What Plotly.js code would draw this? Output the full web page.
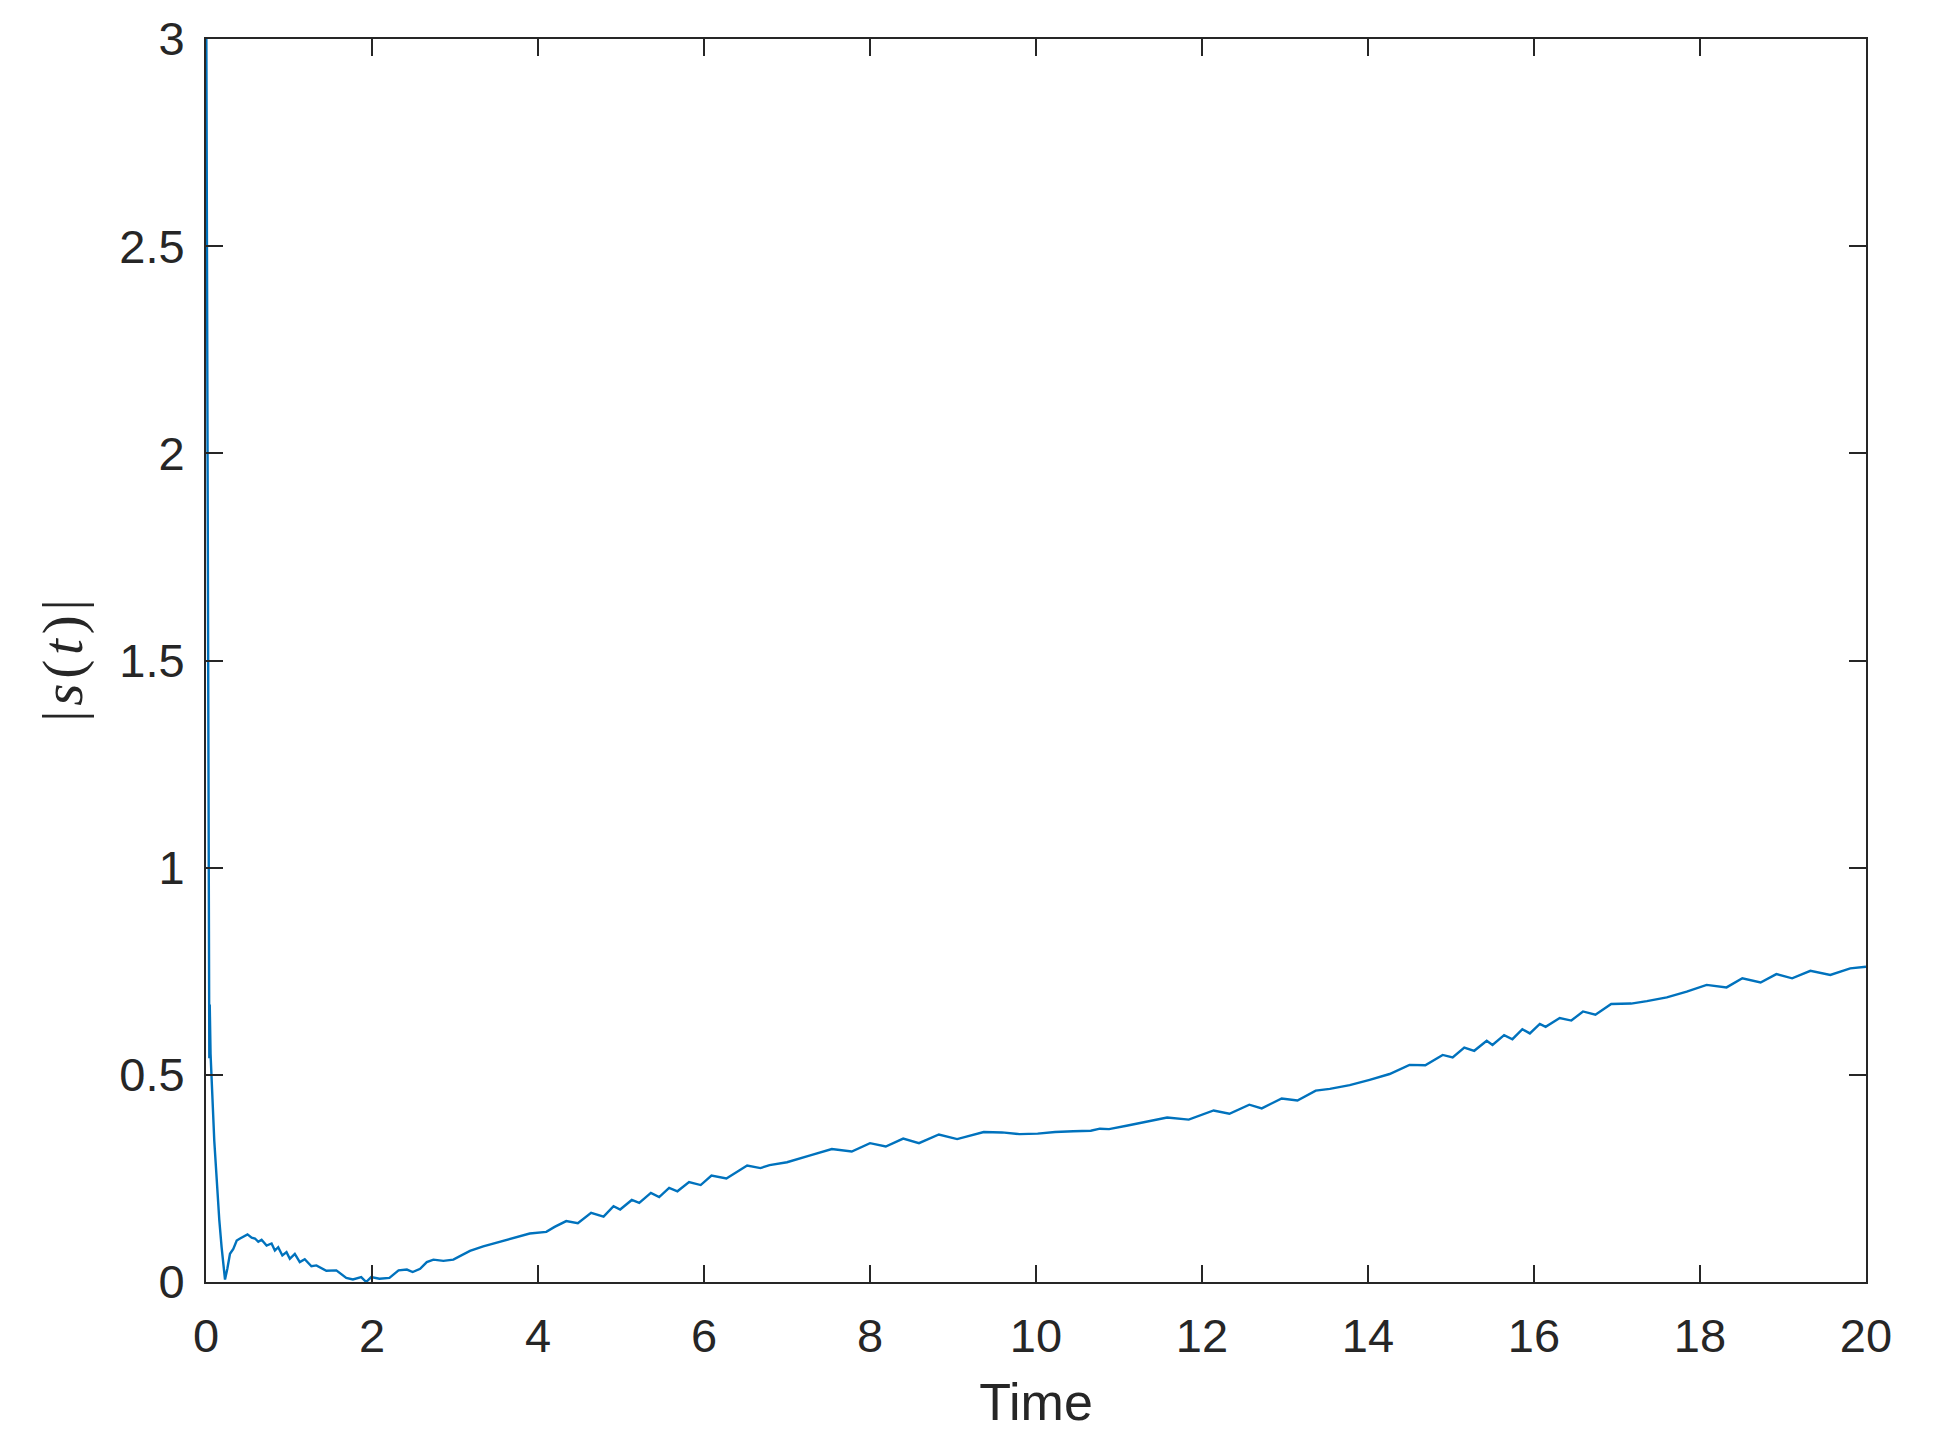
<!DOCTYPE html>
<html>
<head>
<meta charset="utf-8">
<script src="https://cdn.plot.ly/plotly-3.0.1.min.js"></script>
<style>html,body{margin:0;padding:0;background:#fff;}</style>
</head>
<body>
<div id="chart" style="width:1935px;height:1449px;"></div>
<script>
// Time values
const timeValues = [0, 0.03, 0.04, 0.045, 0.055, 0.1, 0.128, 0.16, 0.188, 0.229, 0.257, 0.289, 0.329, 0.37, 0.41, 0.45, 0.5, 0.55, 0.59, 0.63, 0.67, 0.73, 0.79, 0.83, 0.87, 0.92, 0.97, 1.01, 1.07, 1.13, 1.19, 1.27, 1.33, 1.45, 1.57, 1.69, 1.77, 1.87, 1.93, 1.99, 2.09, 2.21, 2.32, 2.42, 2.49, 2.58, 2.66, 2.74, 2.86, 2.98, 3.06, 3.18, 3.34, 3.54, 3.74, 3.9, 4.1, 4.2, 4.34, 4.48, 4.64, 4.79, 4.91, 4.99, 5.13, 5.22, 5.36, 5.46, 5.58, 5.68, 5.82, 5.96, 6.09, 6.27, 6.52, 6.68, 6.79, 7.0, 7.27, 7.54, 7.78, 8.0, 8.19, 8.4, 8.59, 8.83, 9.05, 9.37, 9.59, 9.8, 10.02, 10.23, 10.45, 10.66, 10.77, 10.88, 11.09, 11.31, 11.58, 11.84, 12.14, 12.33, 12.57, 12.72, 12.96, 13.15, 13.37, 13.54, 13.78, 14.02, 14.26, 14.5, 14.69, 14.9, 15.02, 15.16, 15.28, 15.43, 15.5, 15.64, 15.74, 15.86, 15.95, 16.07, 16.14, 16.31, 16.45, 16.59, 16.74, 16.93, 17.17, 17.36, 17.6, 17.84, 18.08, 18.32, 18.51, 18.73, 18.92, 19.11, 19.33, 19.57, 19.81, 20.0];
// |s(t)| values
const sValues = [3.3, 0.67, 0.54, 0.67, 0.55, 0.34, 0.245, 0.15, 0.084, 0.006, 0.032, 0.068, 0.08, 0.1, 0.105, 0.11, 0.115, 0.107, 0.105, 0.097, 0.102, 0.088, 0.093, 0.076, 0.084, 0.064, 0.072, 0.056, 0.068, 0.048, 0.055, 0.038, 0.04, 0.027, 0.028, 0.01, 0.006, 0.012, 0.0, 0.012, 0.008, 0.01, 0.028, 0.03, 0.024, 0.032, 0.048, 0.054, 0.051, 0.054, 0.062, 0.075, 0.086, 0.097, 0.109, 0.117, 0.121, 0.133, 0.147, 0.142, 0.167, 0.158, 0.183, 0.175, 0.198, 0.191, 0.215, 0.205, 0.227, 0.219, 0.241, 0.234, 0.257, 0.25, 0.281, 0.275, 0.282, 0.289, 0.305, 0.321, 0.315, 0.335, 0.327, 0.346, 0.335, 0.356, 0.345, 0.362, 0.361, 0.357, 0.358, 0.362, 0.364, 0.365, 0.37, 0.369, 0.377, 0.386, 0.397, 0.392, 0.414, 0.406, 0.428, 0.419, 0.443, 0.438, 0.462, 0.466, 0.475, 0.488, 0.502, 0.524, 0.523, 0.548, 0.542, 0.566, 0.558, 0.582, 0.572, 0.596, 0.586, 0.61, 0.6, 0.623, 0.616, 0.637, 0.631, 0.653, 0.645, 0.671, 0.672, 0.678, 0.687, 0.701, 0.717, 0.711, 0.733, 0.723, 0.743, 0.733, 0.751, 0.741, 0.757, 0.761];
// Tick values
const xTickValues = [0, 2, 4, 6, 8, 10, 12, 14, 16, 18, 20];
const yTickValues = [0, 0.5, 1, 1.5, 2, 2.5, 3];
const yTickLabels = ['0', '0.5', '1', '1.5', '2', '2.5', '3'];
const xTitle = 'Time';
const yTitle = '|\u200A<i>s</i>\u200A(\u200A<i>t</i>\u200A)\u200A|';

const axisColor = '#262626';
const tickFont = {family: 'Liberation Sans, Arial, sans-serif', size: 47, color: axisColor};

const trace = {
  x: timeValues,
  y: sValues,
  type: 'scatter',
  mode: 'lines',
  line: {color: '#0072BD', width: 2.4},
  hoverinfo: 'skip'
};

const layout = {
  width: 1935,
  height: 1449,
  margin: {l: 206, r: 69, t: 39, b: 167, pad: 0},
  paper_bgcolor: '#ffffff',
  plot_bgcolor: '#ffffff',
  showlegend: false,
  xaxis: {
    range: [0, 20],
    tickvals: xTickValues,
    ticktext: xTickValues.map(String),
    ticks: 'inside',
    ticklen: 17,
    tickwidth: 2,
    tickcolor: axisColor,
    showline: true,
    linecolor: axisColor,
    linewidth: 2,
    mirror: 'ticks',
    showgrid: false,
    zeroline: false,
    tickfont: tickFont,
    ticklabelstandoff: 12,
    title: {text: xTitle, font: {family: 'Liberation Sans, Arial, sans-serif', size: 52, color: axisColor}, standoff: 22}
  },
  yaxis: {
    range: [0, 3],
    tickvals: yTickValues,
    ticktext: yTickLabels,
    ticks: 'inside',
    ticklen: 17,
    tickwidth: 2,
    tickcolor: axisColor,
    showline: true,
    linecolor: axisColor,
    linewidth: 2,
    mirror: 'ticks',
    showgrid: false,
    zeroline: false,
    tickfont: tickFont,
    ticklabelstandoff: 10,
    title: {text: yTitle, font: {family: 'Liberation Serif, DejaVu Serif, serif', size: 57, color: axisColor}, standoff: 18}
  }
};

Plotly.newPlot('chart', [trace], layout, {staticPlot: true, displayModeBar: false});
</script>
</body>
</html>
